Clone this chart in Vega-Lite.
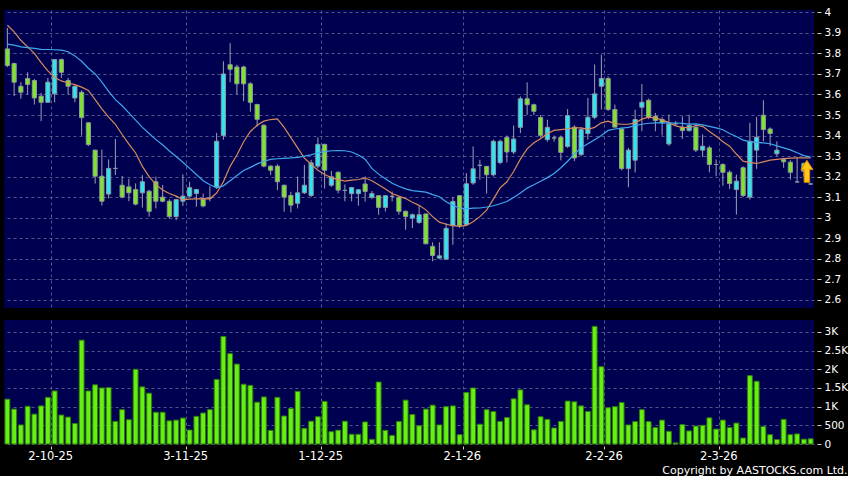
{
"$schema": "https://vega.github.io/schema/vega-lite/v6.json",
"background": "#000000",
"padding": {"left": 4, "top": 7, "right": 0, "bottom": 0},
"title": {"text": "Copyright by AASTOCKS.com Ltd.", "orient": "bottom", "anchor": "end", "frame": "bounds", "color": "#ffffff", "fontSize": 11, "font": "DejaVu Sans", "fontWeight": "normal", "offset": 3},
"datasets": {"ohlc": [
{"d":"22-9-25","open":3.822,"high":3.924,"low":3.733,"close":3.741,"vol":1200,"ma10":3.937,"ma20":3.845},
{"d":"23-9-25","open":3.751,"high":3.755,"low":3.592,"close":3.660,"vol":935,"ma10":3.905,"ma20":3.840},
{"d":"24-9-25","open":3.640,"high":3.660,"low":3.579,"close":3.611,"vol":510,"ma10":3.864,"ma20":3.832},
{"d":"25-9-25","open":3.678,"high":3.708,"low":3.600,"close":3.649,"vol":1010,"ma10":3.832,"ma20":3.828},
{"d":"26-9-25","open":3.668,"high":3.675,"low":3.551,"close":3.583,"vol":800,"ma10":3.800,"ma20":3.825},
{"d":"29-9-25","open":3.592,"high":3.608,"low":3.470,"close":3.562,"vol":1020,"ma10":3.755,"ma20":3.820},
{"d":"30-9-25","open":3.562,"high":3.681,"low":3.560,"close":3.660,"vol":1250,"ma10":3.715,"ma20":3.819},
{"d":"2-10-25","open":3.603,"high":3.770,"low":3.562,"close":3.770,"vol":1420,"ma10":3.683,"ma20":3.818},
{"d":"3-10-25","open":3.770,"high":3.775,"low":3.681,"close":3.708,"vol":775,"ma10":3.666,"ma20":3.816},
{"d":"6-10-25","open":3.668,"high":3.681,"low":3.600,"close":3.640,"vol":720,"ma10":3.656,"ma20":3.808},
{"d":"8-10-25","open":3.583,"high":3.645,"low":3.562,"close":3.640,"vol":550,"ma10":3.648,"ma20":3.788},
{"d":"9-10-25","open":3.611,"high":3.620,"low":3.400,"close":3.487,"vol":2780,"ma10":3.636,"ma20":3.762},
{"d":"10-10-25","open":3.462,"high":3.465,"low":3.349,"close":3.356,"vol":1420,"ma10":3.620,"ma20":3.728},
{"d":"13-10-25","open":3.329,"high":3.330,"low":3.166,"close":3.202,"vol":1585,"ma10":3.575,"ma20":3.700},
{"d":"14-10-25","open":3.202,"high":3.332,"low":3.059,"close":3.080,"vol":1500,"ma10":3.530,"ma20":3.660},
{"d":"15-10-25","open":3.115,"high":3.284,"low":3.094,"close":3.240,"vol":1510,"ma10":3.490,"ma20":3.615},
{"d":"16-10-25","open":3.240,"high":3.383,"low":3.207,"close":3.240,"vol":605,"ma10":3.455,"ma20":3.575},
{"d":"17-10-25","open":3.158,"high":3.203,"low":3.095,"close":3.100,"vol":920,"ma10":3.405,"ma20":3.545},
{"d":"20-10-25","open":3.150,"high":3.190,"low":3.080,"close":3.121,"vol":650,"ma10":3.358,"ma20":3.510},
{"d":"21-10-25","open":3.137,"high":3.167,"low":3.060,"close":3.066,"vol":2000,"ma10":3.315,"ma20":3.475},
{"d":"22-10-25","open":3.121,"high":3.207,"low":3.049,"close":3.175,"vol":1530,"ma10":3.250,"ma20":3.440},
{"d":"23-10-25","open":3.129,"high":3.135,"low":3.005,"close":3.031,"vol":1360,"ma10":3.200,"ma20":3.410},
{"d":"24-10-25","open":3.175,"high":3.200,"low":3.045,"close":3.080,"vol":850,"ma10":3.161,"ma20":3.380},
{"d":"27-10-25","open":3.100,"high":3.159,"low":3.075,"close":3.080,"vol":850,"ma10":3.135,"ma20":3.355},
{"d":"28-10-25","open":3.080,"high":3.090,"low":2.995,"close":3.005,"vol":620,"ma10":3.118,"ma20":3.325},
{"d":"30-10-25","open":3.005,"high":3.090,"low":2.988,"close":3.088,"vol":640,"ma10":3.105,"ma20":3.298},
{"d":"31-10-25","open":3.080,"high":3.211,"low":3.057,"close":3.105,"vol":695,"ma10":3.088,"ma20":3.270},
{"d":"3-11-25","open":3.105,"high":3.175,"low":3.100,"close":3.146,"vol":375,"ma10":3.090,"ma20":3.240},
{"d":"4-11-25","open":3.118,"high":3.140,"low":3.053,"close":3.137,"vol":740,"ma10":3.092,"ma20":3.210},
{"d":"5-11-25","open":3.089,"high":3.118,"low":3.050,"close":3.057,"vol":830,"ma10":3.093,"ma20":3.180},
{"d":"6-11-25","open":3.096,"high":3.153,"low":3.080,"close":3.096,"vol":920,"ma10":3.092,"ma20":3.160},
{"d":"7-11-25","open":3.150,"high":3.413,"low":3.140,"close":3.372,"vol":1730,"ma10":3.120,"ma20":3.145},
{"d":"10-11-25","open":3.400,"high":3.762,"low":3.380,"close":3.700,"vol":2880,"ma10":3.175,"ma20":3.155},
{"d":"11-11-25","open":3.745,"high":3.850,"low":3.660,"close":3.723,"vol":2420,"ma10":3.250,"ma20":3.180},
{"d":"12-11-25","open":3.734,"high":3.745,"low":3.600,"close":3.652,"vol":2140,"ma10":3.305,"ma20":3.205},
{"d":"13-11-25","open":3.734,"high":3.740,"low":3.567,"close":3.652,"vol":1600,"ma10":3.370,"ma20":3.230},
{"d":"14-11-25","open":3.652,"high":3.660,"low":3.516,"close":3.562,"vol":1570,"ma10":3.420,"ma20":3.245},
{"d":"17-11-25","open":3.551,"high":3.555,"low":3.443,"close":3.479,"vol":1120,"ma10":3.450,"ma20":3.262},
{"d":"18-11-25","open":3.450,"high":3.455,"low":3.245,"close":3.251,"vol":1260,"ma10":3.470,"ma20":3.275},
{"d":"19-11-25","open":3.251,"high":3.255,"low":3.207,"close":3.231,"vol":365,"ma10":3.478,"ma20":3.284},
{"d":"20-11-25","open":3.251,"high":3.260,"low":3.134,"close":3.175,"vol":1250,"ma10":3.481,"ma20":3.287},
{"d":"21-11-25","open":3.158,"high":3.160,"low":3.029,"close":3.100,"vol":750,"ma10":3.440,"ma20":3.289},
{"d":"24-11-25","open":3.108,"high":3.126,"low":3.026,"close":3.061,"vol":950,"ma10":3.390,"ma20":3.291},
{"d":"25-11-25","open":3.070,"high":3.200,"low":3.045,"close":3.121,"vol":1410,"ma10":3.340,"ma20":3.294},
{"d":"26-11-25","open":3.121,"high":3.256,"low":3.115,"close":3.158,"vol":420,"ma10":3.290,"ma20":3.300},
{"d":"27-11-25","open":3.108,"high":3.281,"low":3.100,"close":3.267,"vol":610,"ma10":3.260,"ma20":3.306},
{"d":"28-11-25","open":3.251,"high":3.391,"low":3.240,"close":3.357,"vol":730,"ma10":3.231,"ma20":3.316},
{"d":"1-12-25","open":3.357,"high":3.360,"low":3.142,"close":3.231,"vol":1140,"ma10":3.210,"ma20":3.322},
{"d":"2-12-25","open":3.158,"high":3.227,"low":3.150,"close":3.199,"vol":330,"ma10":3.195,"ma20":3.326},
{"d":"3-12-25","open":3.221,"high":3.225,"low":3.118,"close":3.134,"vol":370,"ma10":3.185,"ma20":3.327},
{"d":"4-12-25","open":3.133,"high":3.162,"low":3.080,"close":3.133,"vol":610,"ma10":3.178,"ma20":3.326},
{"d":"5-12-25","open":3.117,"high":3.150,"low":3.079,"close":3.147,"vol":260,"ma10":3.183,"ma20":3.320},
{"d":"8-12-25","open":3.117,"high":3.140,"low":3.058,"close":3.136,"vol":260,"ma10":3.186,"ma20":3.305},
{"d":"9-12-25","open":3.164,"high":3.201,"low":3.079,"close":3.128,"vol":590,"ma10":3.193,"ma20":3.285},
{"d":"10-12-25","open":3.099,"high":3.130,"low":3.090,"close":3.117,"vol":125,"ma10":3.180,"ma20":3.240},
{"d":"11-12-25","open":3.107,"high":3.110,"low":3.014,"close":3.050,"vol":1660,"ma10":3.160,"ma20":3.212},
{"d":"12-12-25","open":3.050,"high":3.110,"low":3.030,"close":3.107,"vol":365,"ma10":3.140,"ma20":3.190},
{"d":"15-12-25","open":3.104,"high":3.128,"low":3.079,"close":3.104,"vol":230,"ma10":3.118,"ma20":3.168},
{"d":"16-12-25","open":3.099,"high":3.100,"low":3.014,"close":3.031,"vol":605,"ma10":3.105,"ma20":3.153},
{"d":"17-12-25","open":3.031,"high":3.035,"low":2.941,"close":3.006,"vol":1175,"ma10":3.093,"ma20":3.140},
{"d":"18-12-25","open":2.998,"high":3.020,"low":2.949,"close":3.014,"vol":790,"ma10":3.075,"ma20":3.132},
{"d":"19-12-25","open":2.977,"high":3.058,"low":2.970,"close":3.014,"vol":490,"ma10":3.060,"ma20":3.128},
{"d":"22-12-25","open":3.018,"high":3.020,"low":2.870,"close":2.873,"vol":935,"ma10":3.038,"ma20":3.124},
{"d":"23-12-25","open":2.860,"high":2.880,"low":2.787,"close":2.816,"vol":1040,"ma10":3.005,"ma20":3.112},
{"d":"24-12-25","open":2.803,"high":2.880,"low":2.800,"close":2.814,"vol":510,"ma10":2.978,"ma20":3.102},
{"d":"29-12-25","open":2.798,"high":2.974,"low":2.795,"close":2.948,"vol":1000,"ma10":2.968,"ma20":3.078},
{"d":"30-12-25","open":2.961,"high":3.100,"low":2.868,"close":3.079,"vol":1020,"ma10":2.961,"ma20":3.060},
{"d":"31-12-25","open":3.107,"high":3.110,"low":2.950,"close":2.961,"vol":250,"ma10":2.958,"ma20":3.047},
{"d":"2-1-26","open":2.966,"high":3.217,"low":2.960,"close":3.165,"vol":1380,"ma10":2.962,"ma20":3.043},
{"d":"5-1-26","open":3.169,"high":3.347,"low":3.160,"close":3.238,"vol":1500,"ma10":2.980,"ma20":3.046},
{"d":"6-1-26","open":3.255,"high":3.282,"low":3.185,"close":3.255,"vol":530,"ma10":3.005,"ma20":3.047},
{"d":"7-1-26","open":3.250,"high":3.250,"low":3.117,"close":3.209,"vol":920,"ma10":3.037,"ma20":3.052},
{"d":"8-1-26","open":3.209,"high":3.380,"low":3.200,"close":3.372,"vol":870,"ma10":3.090,"ma20":3.058},
{"d":"9-1-26","open":3.269,"high":3.380,"low":3.260,"close":3.372,"vol":605,"ma10":3.145,"ma20":3.068},
{"d":"12-1-26","open":3.391,"high":3.400,"low":3.269,"close":3.320,"vol":710,"ma10":3.175,"ma20":3.079},
{"d":"13-1-26","open":3.320,"high":3.449,"low":3.310,"close":3.383,"vol":1210,"ma10":3.225,"ma20":3.098},
{"d":"14-1-26","open":3.440,"high":3.590,"low":3.412,"close":3.579,"vol":1450,"ma10":3.285,"ma20":3.120},
{"d":"15-1-26","open":3.579,"high":3.659,"low":3.501,"close":3.550,"vol":1050,"ma10":3.335,"ma20":3.144},
{"d":"16-1-26","open":3.550,"high":3.555,"low":3.500,"close":3.518,"vol":380,"ma10":3.365,"ma20":3.160},
{"d":"19-1-26","open":3.488,"high":3.500,"low":3.390,"close":3.401,"vol":730,"ma10":3.384,"ma20":3.177},
{"d":"20-1-26","open":3.380,"high":3.477,"low":3.370,"close":3.440,"vol":660,"ma10":3.410,"ma20":3.195},
{"d":"21-1-26","open":3.388,"high":3.400,"low":3.370,"close":3.388,"vol":430,"ma10":3.425,"ma20":3.215},
{"d":"22-1-26","open":3.391,"high":3.400,"low":3.279,"close":3.318,"vol":605,"ma10":3.429,"ma20":3.243},
{"d":"23-1-26","open":3.347,"high":3.529,"low":3.340,"close":3.497,"vol":1150,"ma10":3.433,"ma20":3.275},
{"d":"26-1-26","open":3.441,"high":3.450,"low":3.275,"close":3.291,"vol":1130,"ma10":3.437,"ma20":3.310},
{"d":"27-1-26","open":3.307,"high":3.440,"low":3.300,"close":3.429,"vol":1020,"ma10":3.437,"ma20":3.340},
{"d":"28-1-26","open":3.410,"high":3.583,"low":3.380,"close":3.489,"vol":870,"ma10":3.430,"ma20":3.360},
{"d":"29-1-26","open":3.489,"high":3.746,"low":3.480,"close":3.603,"vol":3150,"ma10":3.440,"ma20":3.380},
{"d":"30-1-26","open":3.640,"high":3.794,"low":3.527,"close":3.678,"vol":2070,"ma10":3.462,"ma20":3.400},
{"d":"2-2-26","open":3.678,"high":3.688,"low":3.520,"close":3.527,"vol":970,"ma10":3.470,"ma20":3.425},
{"d":"3-2-26","open":3.527,"high":3.551,"low":3.440,"close":3.441,"vol":1000,"ma10":3.458,"ma20":3.432},
{"d":"4-2-26","open":3.432,"high":3.440,"low":3.230,"close":3.239,"vol":1110,"ma10":3.455,"ma20":3.436},
{"d":"5-2-26","open":3.239,"high":3.340,"low":3.148,"close":3.329,"vol":510,"ma10":3.455,"ma20":3.440},
{"d":"6-2-26","open":3.280,"high":3.526,"low":3.220,"close":3.478,"vol":600,"ma10":3.462,"ma20":3.448},
{"d":"9-2-26","open":3.538,"high":3.651,"low":3.421,"close":3.562,"vol":920,"ma10":3.480,"ma20":3.455},
{"d":"10-2-26","open":3.572,"high":3.580,"low":3.480,"close":3.489,"vol":600,"ma10":3.490,"ma20":3.460},
{"d":"11-2-26","open":3.494,"high":3.510,"low":3.421,"close":3.473,"vol":440,"ma10":3.485,"ma20":3.462},
{"d":"12-2-26","open":3.478,"high":3.490,"low":3.400,"close":3.462,"vol":640,"ma10":3.476,"ma20":3.462},
{"d":"13-2-26","open":3.359,"high":3.502,"low":3.350,"close":3.457,"vol":340,"ma10":3.463,"ma20":3.462},
{"d":"16-2-26","open":3.457,"high":3.470,"low":3.450,"close":3.457,"vol":30,"ma10":3.447,"ma20":3.461},
{"d":"20-2-26","open":3.441,"high":3.494,"low":3.384,"close":3.424,"vol":520,"ma10":3.440,"ma20":3.459},
{"d":"23-2-26","open":3.424,"high":3.502,"low":3.420,"close":3.449,"vol":350,"ma10":3.437,"ma20":3.456},
{"d":"24-2-26","open":3.441,"high":3.450,"low":3.320,"close":3.329,"vol":480,"ma10":3.450,"ma20":3.457},
{"d":"25-2-26","open":3.329,"high":3.405,"low":3.296,"close":3.348,"vol":500,"ma10":3.445,"ma20":3.452},
{"d":"26-2-26","open":3.340,"high":3.350,"low":3.221,"close":3.259,"vol":700,"ma10":3.420,"ma20":3.445},
{"d":"27-2-26","open":3.259,"high":3.283,"low":3.202,"close":3.259,"vol":400,"ma10":3.397,"ma20":3.437},
{"d":"2-3-26","open":3.259,"high":3.265,"low":3.156,"close":3.221,"vol":640,"ma10":3.370,"ma20":3.428},
{"d":"3-3-26","open":3.221,"high":3.230,"low":3.140,"close":3.166,"vol":440,"ma10":3.348,"ma20":3.410},
{"d":"4-3-26","open":3.137,"high":3.210,"low":3.015,"close":3.178,"vol":560,"ma10":3.310,"ma20":3.395},
{"d":"5-3-26","open":3.243,"high":3.250,"low":3.100,"close":3.108,"vol":160,"ma10":3.275,"ma20":3.378},
{"d":"6-3-26","open":3.100,"high":3.462,"low":3.088,"close":3.372,"vol":1830,"ma10":3.268,"ma20":3.370},
{"d":"9-3-26","open":3.329,"high":3.491,"low":3.238,"close":3.392,"vol":1680,"ma10":3.264,"ma20":3.367},
{"d":"10-3-26","open":3.499,"high":3.572,"low":3.372,"close":3.429,"vol":470,"ma10":3.272,"ma20":3.364},
{"d":"11-3-26","open":3.432,"high":3.440,"low":3.348,"close":3.410,"vol":250,"ma10":3.280,"ma20":3.360},
{"d":"12-3-26","open":3.311,"high":3.372,"low":3.300,"close":3.329,"vol":120,"ma10":3.284,"ma20":3.350},
{"d":"13-3-26","open":3.283,"high":3.290,"low":3.243,"close":3.272,"vol":660,"ma10":3.288,"ma20":3.340},
{"d":"16-3-26","open":3.270,"high":3.280,"low":3.186,"close":3.221,"vol":250,"ma10":3.290,"ma20":3.330},
{"d":"17-3-26","open":3.174,"high":3.291,"low":3.170,"close":3.174,"vol":270,"ma10":3.291,"ma20":3.316},
{"d":"18-3-26","open":3.264,"high":3.270,"low":3.200,"close":3.226,"vol":130,"ma10":3.291,"ma20":3.302},
{"d":"19-3-26","open":3.164,"high":3.170,"low":3.160,"close":3.164,"vol":140,"ma10":3.291,"ma20":3.295}
]},
"spacing": 12,
"vconcat": [
{
"width": 810,
"height": 298,
"data": {"name": "ohlc"},
"encoding": {
"x": {"field": "d", "type": "ordinal", "sort": null, "scale": {"paddingInner": 0, "paddingOuter": 0},
"axis": {"values": ["2-10-25","3-11-25","1-12-25","2-1-26","2-2-26","2-3-26"], "bandPosition": 0, "labels": false, "ticks": false, "domain": false, "grid": true, "title": null}}
},
"layer": [
{"mark": {"type": "rule", "color": "#a0a0b0", "strokeWidth": 1},
"encoding": {
"y": {"field": "low", "type": "quantitative", "scale": {"domain": [2.56, 4.0115], "zero": false, "nice": false},
"axis": {"orient": "right", "values": [2.6,2.7,2.8,2.9,3.0,3.1,3.2,3.3,3.4,3.5,3.6,3.7,3.8,3.9,4.0], "labelExpr": "format(datum.value, '.1~f')", "labelOverlap": false, "offset": 3, "tickSize": 4, "labelPadding": 3, "labelFontSize": 10.5, "title": null, "domain": false, "grid": true}},
"y2": {"field": "high"}}},
{"mark": {"type": "bar", "width": {"band": 0.62}, "stroke": "#8d97a0", "strokeWidth": 1},
"encoding": {
"y": {"field": "open", "type": "quantitative", "scale": {"domain": [2.56, 4.0115], "zero": false, "nice": false},
"axis": {"orient": "right", "values": [2.6,2.7,2.8,2.9,3.0,3.1,3.2,3.3,3.4,3.5,3.6,3.7,3.8,3.9,4.0], "labelExpr": "format(datum.value, '.1~f')", "labelOverlap": false, "offset": 3, "tickSize": 4, "labelPadding": 3, "labelFontSize": 10.5, "title": null, "domain": false, "grid": true}},
"y2": {"field": "close"},
"color": {"condition": [{"test": "datum.close > datum.open", "value": "#2ee6f2"}, {"test": "datum.close < datum.open", "value": "#80e52a"}], "value": "#9aa0a8"}}},
{"mark": {"type": "line", "color": "#d88a5a", "strokeWidth": 1.2},
"encoding": {"y": {"field": "ma10", "type": "quantitative", "scale": {"domain": [2.56, 4.0115], "zero": false, "nice": false},
"axis": {"orient": "right", "values": [2.6,2.7,2.8,2.9,3.0,3.1,3.2,3.3,3.4,3.5,3.6,3.7,3.8,3.9,4.0], "labelExpr": "format(datum.value, '.1~f')", "labelOverlap": false, "offset": 3, "tickSize": 4, "labelPadding": 3, "labelFontSize": 10.5, "title": null, "domain": false, "grid": true}}}},
{"mark": {"type": "line", "color": "#3fa8ec", "strokeWidth": 1.2},
"encoding": {"y": {"field": "ma20", "type": "quantitative", "scale": {"domain": [2.56, 4.0115], "zero": false, "nice": false},
"axis": {"orient": "right", "values": [2.6,2.7,2.8,2.9,3.0,3.1,3.2,3.3,3.4,3.5,3.6,3.7,3.8,3.9,4.0], "labelExpr": "format(datum.value, '.1~f')", "labelOverlap": false, "offset": 3, "tickSize": 4, "labelPadding": 3, "labelFontSize": 10.5, "title": null, "domain": false, "grid": true}}}},
{"transform": [{"filter": "datum.d == '18-3-26'"}],
"mark": {"type": "point", "shape": "M0,-1 L0.55,-0.15 L0.25,-0.15 L0.25,1 L-0.25,1 L-0.25,-0.15 L-0.55,-0.15 Z", "filled": true, "size": 484, "color": "#ffc61a", "stroke": "#e08a00", "strokeWidth": 1, "opacity": 1, "xOffset": 3},
"encoding": {"y": {"field": "close", "type": "quantitative", "scale": {"domain": [2.56, 4.0115], "zero": false, "nice": false},
"axis": {"orient": "right", "values": [2.6,2.7,2.8,2.9,3.0,3.1,3.2,3.3,3.4,3.5,3.6,3.7,3.8,3.9,4.0], "labelExpr": "format(datum.value, '.1~f')", "labelOverlap": false, "offset": 3, "tickSize": 4, "labelPadding": 3, "labelFontSize": 10.5, "title": null, "domain": false, "grid": true}}}}
]
},
{
"width": 810,
"height": 124,
"data": {"name": "ohlc"},
"mark": {"type": "bar", "width": {"band": 0.72}, "color": "#66f011", "stroke": "#2f7d0c", "strokeWidth": 1},
"encoding": {
"x": {"field": "d", "type": "ordinal", "sort": null, "scale": {"paddingInner": 0, "paddingOuter": 0},
"axis": {"values": ["2-10-25","3-11-25","1-12-25","2-1-26","2-2-26","2-3-26"], "bandPosition": 0, "labelOffset": -4, "labelAngle": 0, "labelFontSize": 11.5, "labelPadding": 1, "tickSize": 3, "offset": 2, "domain": false, "grid": true, "title": null}},
"y": {"field": "vol", "type": "quantitative", "scale": {"domain": [0, 3320], "nice": false},
"axis": {"orient": "right", "values": [0,500,1000,1500,2000,2500,3000], "labelExpr": "datum.value >= 1000 ? format(datum.value / 1000, '.1~f') + 'K' : format(datum.value, 'd')", "labelOverlap": false, "offset": 3, "tickSize": 4, "labelPadding": 3, "labelFontSize": 10.5, "title": null, "domain": false, "grid": true}}
}
}
],
"config": {
"view": {"fill": "#000050", "stroke": null},
"axis": {"labelColor": "#ffffff", "labelFont": "DejaVu Sans", "tickColor": "#cccccc", "gridColor": "#6a6a9c", "gridDash": [3, 3], "gridOpacity": 0.8}
}
}
